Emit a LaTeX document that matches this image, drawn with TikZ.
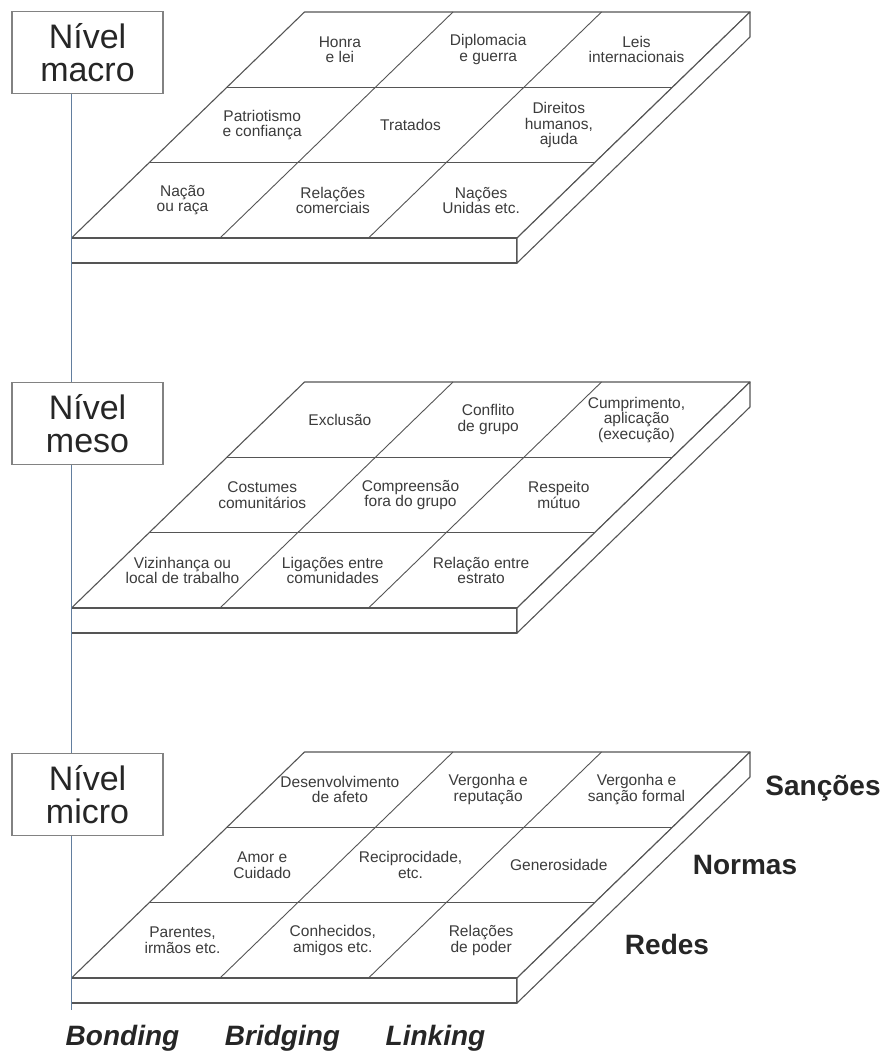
\documentclass[tikz,border=0pt]{standalone}
\usepackage{fontspec}
\setmainfont{Liberation Sans}
\definecolor{SlabLine}{RGB}{85, 85, 85}
\definecolor{AxisBlue}{RGB}{98, 126, 158}
\definecolor{BoxGray}{RGB}{130, 130, 130}
\definecolor{CellText}{RGB}{60, 60, 60}
\usepackage{tikz}
\usetikzlibrary{positioning}

\begin{document}
\begin{tikzpicture}[
        x=1pt, y=-1pt,
        node distance=288pt,
        % Styles
        level/.style={rectangle, draw=BoxGray, line width=1.1pt, fill=white, minimum width=151pt, minimum height=82pt, align=center, inner sep=0pt, text=black!85, font=\fontsize{34}{33}\selectfont},
        cell/.style={align=center, inner sep=0pt, text=CellText, font=\fontsize{15.5}{15.5}\selectfont},
        slab/.style={draw=SlabLine, line width=1.1pt, fill=white, line join=round},
        rowline/.style={draw=SlabLine, line width=0.9pt},
        facet/.style={text=black!85, font=\fontsize{28}{30}\selectfont\bfseries},
        capital/.style={anchor=base, text=black!85, font=\fontsize{28}{30}\selectfont\bfseries\itshape},
        levelline/.style={draw=AxisBlue, line width=1.4pt}
    ]
        \useasboundingbox (0,0) rectangle (886,1051);

        % Slabs
        \foreach \yf in {238,608,978} {
            \begin{scope}[shift={(71.5,\yf)}]
                \path [slab] (0,0) -- (445.5,0) -- (678.5,-226) -- (233,-226) -- cycle;
                \path [slab] (0,0) rectangle (445.5,25);
                \path [slab] (445.5,0) -- (678.5,-226) -- (678.5,-201) -- (445.5,25) -- cycle;
                \foreach \d in {1,2} {
                    \draw [rowline] ({233*\d/3},{-226*\d/3}) -- ({445.5+233*\d/3},{-226*\d/3});
                    \draw [rowline] ({445.5*\d/3},0) -- ({445.5*\d/3+233},-226);
                }
            \end{scope}
        }

        % Macro cells
        \begin{scope}[shift={(71.5,238)}]
            \node [cell] (ma-1-1) at (268.4,-188.3) {Honra\\e lei};
            \node [cell] (ma-1-2) at (416.7,-188.3) {Diplomacia\\e guerra};
            \node [cell] (ma-1-3) at (565,-188.3) {Leis\\internacionais};
            \node [cell] (ma-2-1) at (190.7,-113) {Patriotismo\\e confiança};
            \node [cell] (ma-2-2) at (339,-113) {Tratados};
            \node [cell] (ma-2-3) at (487.3,-113) {Direitos\\humanos,\\ajuda};
            \node [cell] (ma-3-1) at (111,-37.7) {Nação\\ou raça};
            \node [cell] (ma-3-2) at (261.3,-37.7) {Relações\\comerciais};
            \node [cell] (ma-3-3) at (409.6,-37.7) {Nações\\Unidas etc.};
        \end{scope}

        % Meso cells
        \begin{scope}[shift={(71.5,608)}]
            \node [cell] (me-1-1) at (268.4,-188.3) {Exclusão};
            \node [cell] (me-1-2) at (416.7,-188.3) {Conflito\\de grupo};
            \node [cell] (me-1-3) at (565,-188.3) {Cumprimento,\\aplicação\\(execução)};
            \node [cell] (me-2-1) at (190.7,-113) {Costumes\\comunitários};
            \node [cell] (me-2-2) at (339,-113) {Compreensão\\fora do grupo};
            \node [cell] (me-2-3) at (487.3,-113) {Respeito\\mútuo};
            \node [cell] (me-3-1) at (111,-37.7) {Vizinhança ou\\local de trabalho};
            \node [cell] (me-3-2) at (261.3,-37.7) {Ligações entre\\comunidades};
            \node [cell] (me-3-3) at (409.6,-37.7) {Relação entre\\estrato};
        \end{scope}

        % Micro cells
        \begin{scope}[shift={(71.5,978)}]
            \node [cell] (mi-1-1) at (268.4,-188.3) {Desenvolvimento\\de afeto};
            \node [cell] (mi-1-2) at (416.7,-188.3) {Vergonha e\\reputação};
            \node [cell] (mi-1-3) at (565,-188.3) {Vergonha e\\sanção formal};
            \node [cell] (mi-2-1) at (190.7,-113) {Amor e\\Cuidado};
            \node [cell] (mi-2-2) at (339,-113) {Reciprocidade,\\etc.};
            \node [cell] (mi-2-3) at (487.3,-113) {Generosidade};
            \node [cell] (mi-3-1) at (111,-37.7) {Parentes,\\irmãos etc.};
            \node [cell] (mi-3-2) at (261.3,-37.7) {Conhecidos,\\amigos etc.};
            \node [cell] (mi-3-3) at (409.6,-37.7) {Relações\\de poder};
        \end{scope}

        % Levels
        \node [level] (macro) at (87.5,52.5) {Nível\\macro};
        \node [level, below=of macro] (meso) {Nível\\meso};
        \node [level, below=of meso] (micro) {Nível\\micro};

        \coordinate (axisend) at (71.5,1010);
        \path [levelline] (macro.south -| axisend) -- (meso.north -| axisend);
        \path [levelline] (meso.south -| axisend) -- (micro.north -| axisend);
        \path [levelline] (micro.south -| axisend) -- (axisend);

        % Labels
        \node [facet] (sancoes) at (823,788) {Sanções};
        \node [facet] (normas) at (745,865) {Normas};
        \node [facet] (redes) at (667,944) {Redes};

        \node [capital] (bonding) at (122.5,1045) {Bonding};
        \node [capital] (bridging) at (282.5,1045) {Bridging};
        \node [capital] (linking) at (435.5,1045) {Linking};
    \end{tikzpicture}
\end{document}
